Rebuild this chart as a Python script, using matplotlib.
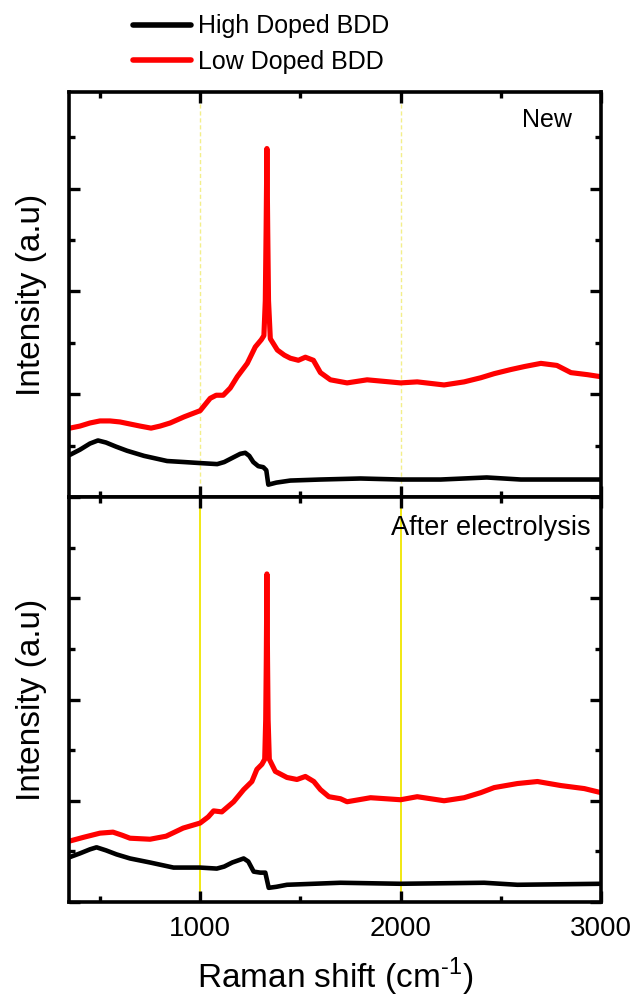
import matplotlib
matplotlib.use("Agg")
import matplotlib.pyplot as plt
from matplotlib.ticker import MultipleLocator, NullFormatter

plt.rcParams["font.family"] = ["Liberation Sans", "DejaVu Sans"]
plt.rcParams["mathtext.fontset"] = "custom"
plt.rcParams["mathtext.rm"] = "Liberation Sans"

# top panel ("New")
new_high_x = [350, 400, 450, 490, 530, 580, 635, 720, 835, 920, 1000, 1085, 1120, 1160, 1200,
              1225, 1245, 1265, 1290, 1315, 1330, 1340, 1380, 1450, 1600, 1800, 2000, 2200,
              2430, 2600, 3000]
new_high_y = [0.41, 0.46, 0.52, 0.55, 0.53, 0.49, 0.45, 0.40, 0.35, 0.34, 0.33, 0.32, 0.34, 0.38,
              0.42, 0.43, 0.40, 0.34, 0.30, 0.29, 0.26, 0.12, 0.14, 0.16, 0.17, 0.18, 0.17, 0.17,
              0.19, 0.17, 0.17]

new_low_x = [350, 400, 450, 500, 550, 600, 650, 700, 755, 800, 850, 920, 1000, 1050, 1080, 1115,
             1150, 1185, 1235, 1275, 1305, 1318, 1325, 1329, 1333, 1337, 1341, 1350, 1385, 1420,
             1450, 1490, 1525, 1565, 1600, 1650, 1733, 1833, 2000, 2083, 2217, 2317, 2400, 2467,
             2550, 2620, 2700, 2780, 2850, 2933, 3000]
new_low_y = [0.67, 0.69, 0.72, 0.74, 0.74, 0.73, 0.71, 0.69, 0.67, 0.69, 0.72, 0.78, 0.84, 0.96,
             0.99, 0.99, 1.06, 1.17, 1.30, 1.46, 1.53, 1.57, 1.91, 2.59, 3.39, 2.59, 1.91, 1.54,
             1.43, 1.38, 1.35, 1.33, 1.36, 1.33, 1.21, 1.14, 1.11, 1.14, 1.11, 1.12, 1.09, 1.12,
             1.16, 1.20, 1.24, 1.27, 1.30, 1.28, 1.21, 1.19, 1.17]

# bottom panel ("After electrolysis")
old_high_x = [345, 400, 450, 483, 530, 583, 650, 750, 867, 1000, 1083, 1120, 1160, 1217, 1240,
              1267, 1300, 1325, 1342, 1380, 1433, 1700, 2000, 2417, 2583, 3000]
old_high_y = [0.44, 0.48, 0.52, 0.54, 0.51, 0.47, 0.43, 0.39, 0.34, 0.34, 0.33, 0.35, 0.39, 0.43,
              0.40, 0.30, 0.29, 0.29, 0.14, 0.15, 0.17, 0.19, 0.18, 0.19, 0.17, 0.18]

old_low_x = [345, 420, 500, 565, 610, 650, 750, 830, 915, 1000, 1040, 1067, 1108, 1167, 1217,
             1258, 1283, 1308, 1322, 1327, 1330, 1333, 1336, 1339, 1345, 1375, 1433, 1483, 1525,
             1567, 1600, 1642, 1700, 1733, 1850, 2000, 2083, 2217, 2317, 2400, 2467, 2583, 2683,
             2800, 2917, 3000]
old_low_y = [0.60, 0.64, 0.68, 0.69, 0.66, 0.63, 0.62, 0.65, 0.73, 0.78, 0.84, 0.90, 0.89, 0.99,
             1.11, 1.19, 1.31, 1.36, 1.41, 1.80, 2.40, 3.24, 2.40, 1.80, 1.41, 1.29, 1.23, 1.21,
             1.24, 1.19, 1.11, 1.04, 1.02, 0.99, 1.03, 1.01, 1.04, 1.00, 1.03, 1.08, 1.13, 1.17,
             1.19, 1.15, 1.12, 1.08]

guide_x = [1000, 2000]

fig = plt.figure(figsize=(6.38, 10), dpi=100)
ax1 = fig.add_axes([0.108, 0.503, 0.834, 0.405])
ax2 = fig.add_axes([0.108, 0.098, 0.834, 0.405], sharex=ax1)

for ax in (ax1, ax2):
    for s in ax.spines.values():
        s.set_linewidth(2.6)
    ax.xaxis.set_major_locator(MultipleLocator(1000))
    ax.xaxis.set_minor_locator(MultipleLocator(500))
    ax.yaxis.set_major_locator(MultipleLocator(1))
    ax.yaxis.set_minor_locator(MultipleLocator(0.5))
    ax.yaxis.set_major_formatter(NullFormatter())
    ax.tick_params(which="both", direction="in", top=True, right=True, width=2.4)
    ax.tick_params(which="major", length=8)
    ax.tick_params(which="minor", length=4.5)
    ax.tick_params(axis="x", labelsize=20, pad=10)
    ax.set_ylabel("Intensity (a.u)", fontsize=24, labelpad=12)

# guide lines
for gx in guide_x:
    ax1.axvline(gx, color="#f3ef8a", lw=1.0, ls=(0, (3, 2)), zorder=0)
    ax2.axvline(gx, color="#f0e600", lw=1.3, zorder=0)

style = dict(solid_joinstyle="round", solid_capstyle="round")
ax1.plot(new_high_x, new_high_y, color="black", lw=3.3, label="High Doped BDD", **style)
ax1.plot(new_low_x, new_low_y, color="red", lw=3.7, label="Low Doped BDD", **style)
ax2.plot(old_high_x, old_high_y, color="black", lw=3.3, **style)
ax2.plot(old_low_x, old_low_y, color="red", lw=3.7, **style)

ax1.set_xlim(345, 3000)
ax1.set_ylim(0, 3.94)
ax2.set_ylim(0, 4.0)
ax1.tick_params(axis="x", labelbottom=False)

ax1.text(0.945, 0.96, "New", transform=ax1.transAxes, fontsize=18, ha="right", va="top")
ax2.text(0.98, 0.955, "After electrolysis", transform=ax2.transAxes, fontsize=19.5,
         ha="right", va="top")

ax2.set_xlabel(r"Raman shift (cm$^{\mathrm{\text{-}1}}$)", fontsize=24, labelpad=10)

leg = fig.legend(loc="upper center", bbox_to_anchor=(0.41, 1.008), frameon=False, fontsize=18,
                 handlelength=2.3, handletextpad=0.3, labelspacing=0.45)
for h in leg.legend_handles:
    h.set_linewidth(4)

fig.savefig("out.png", dpi=100)
